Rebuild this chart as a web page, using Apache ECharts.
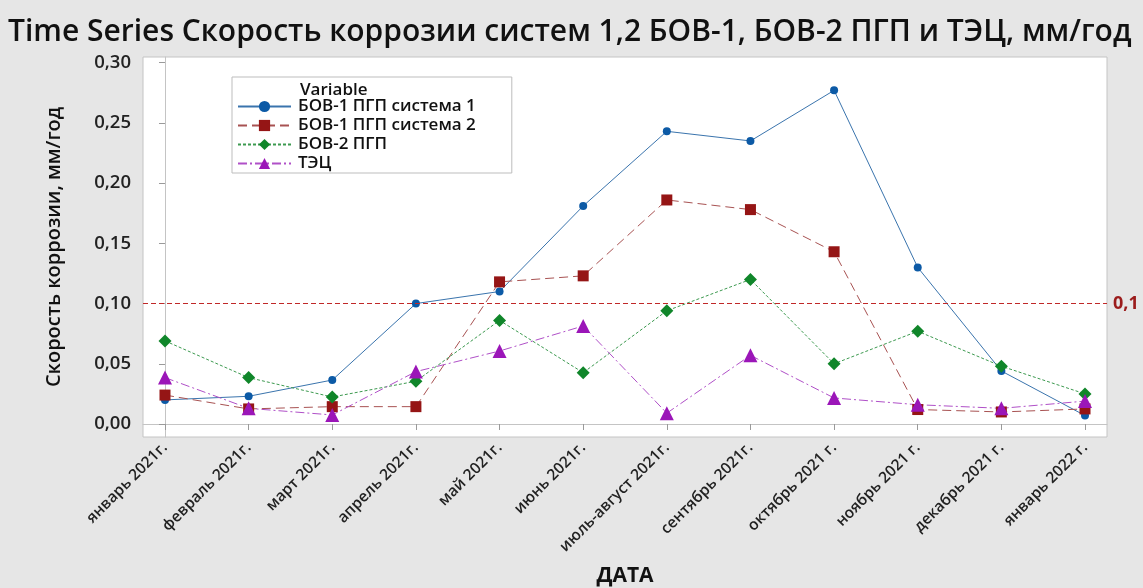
<!DOCTYPE html>
<html><head><meta charset="utf-8">
<script src="https://cdn.jsdelivr.net/npm/echarts@6/dist/echarts.min.js"></script>
<style>html,body{margin:0;padding:0;background:#e6e6e6}#c{width:1143px;height:588px}</style>
</head><body><div id="c"></div>
<script>
var categories = ['январь 2021г.','февраль 2021г.','март 2021г.','апрель 2021г.','май 2021г.','июнь 2021г.','июль-август 2021г.','сентябрь 2021г.','октябрь 2021 г.','ноябрь 2021 г.','декабрь 2021 г.','январь 2022 г.'];
var bov1s1 = [0.020,0.023,0.0365,0.100,0.110,0.181,0.243,0.235,0.277,0.130,0.044,0.007];
var bov1s2 = [0.024,0.0125,0.0144,0.0144,0.118,0.123,0.186,0.178,0.143,0.012,0.010,0.0125];
var bov2 = [0.069,0.0385,0.0224,0.0355,0.086,0.0426,0.094,0.120,0.050,0.077,0.048,0.025];
var tec = [0.0385,0.013,0.0075,0.0435,0.0606,0.0814,0.009,0.057,0.0216,0.016,0.013,0.019];
var yTicks = [0,0.05,0.10,0.15,0.20,0.25,0.30];
var refValue = 0.1;

function pairs(arr){ return arr.map(function(v,i){ return [i,v]; }); }
var idx = categories.map(function(c,i){ return i; });
var font = 'Open Sans';
var chart = echarts.init(document.getElementById('c'));
chart.setOption({
  backgroundColor:'#e6e6e6',
  animation:false,
  title:[{
    text:'Time Series Скорость коррозии систем 1,2 БОВ-1, БОВ-2 ПГП и ТЭЦ, мм/год',
    left:3, top:12,
    textStyle:{fontFamily:font,fontSize:30,fontWeight:600,color:'#111'}
  },{
    text:'Variable', left:295, top:77,
    textStyle:{fontFamily:font,fontSize:17,fontWeight:600,color:'#111'}
  }],
  legend:{
    orient:'vertical', left:232, top:77,
    padding:[21,36,1,5], itemGap:2, itemWidth:53, itemHeight:14,
    backgroundColor:'#fff', borderColor:'#bdbdbd', borderWidth:1,
    textStyle:{fontFamily:font,fontSize:17,fontWeight:600,color:'#111',padding:[0,0,0,2]},
    data:['БОВ-1 ПГП система 1','БОВ-1 ПГП система 2','БОВ-2 ПГП','ТЭЦ']
  },
  grid:{left:143,right:36,top:57,bottom:151,outerBoundsMode:'none',containLabel:false,show:true,backgroundColor:'#fff',borderColor:'#c4c4c4',borderWidth:1},
  xAxis:{
    type:'value', min:-0.263, max:11.263,
    name:'ДАТА', nameLocation:'middle', nameGap:129,
    nameTextStyle:{fontFamily:font,fontSize:21,fontWeight:700,color:'#111'},
    axisLine:{show:true,lineStyle:{color:'#c4c4c4'}},
    splitLine:{show:false},
    axisTick:{show:true,length:6,lineStyle:{color:'#9a9a9a'},customValues:idx},
    axisLabel:{customValues:idx,rotate:45,margin:8,fontFamily:font,fontSize:15.5,fontWeight:600,color:'#222',
      formatter:function(v){ return categories[Math.round(v)]; }}
  },
  yAxis:{
    type:'value', min:-0.0108, max:0.3047,
    name:'Скорость коррозии, мм/год', nameLocation:'middle', nameGap:79,
    nameTextStyle:{fontFamily:font,fontSize:20,fontWeight:600,color:'#111'},
    axisLine:{show:true,lineStyle:{color:'#c4c4c4'}},
    splitLine:{show:false},
    axisTick:{show:true,length:6,lineStyle:{color:'#9a9a9a'},customValues:yTicks},
    axisLabel:{customValues:yTicks,margin:12,fontFamily:font,fontSize:18.5,fontWeight:600,color:'#222',
      formatter:function(v){ return v.toFixed(2).replace('.',','); }}
  },
  series:[{
    name:'БОВ-1 ПГП система 1', type:'line', data:pairs(bov1s1),
    symbol:'circle', symbolSize:8,
    itemStyle:{color:'#0c5aa6'}, lineStyle:{color:'#3a74ad',width:1,type:'solid'},
    markLine:{silent:true,symbol:['none','none'],
      lineStyle:{color:'#c02828',type:[5,3],width:1.2},
      label:{show:true,position:'end',distance:6,formatter:'0,1',fontFamily:font,fontSize:18,fontWeight:700,color:'#9b1c1c'},
      data:[{yAxis:refValue}]}
  },{
    name:'БОВ-1 ПГП система 2', type:'line', data:pairs(bov1s2),
    symbol:'rect', symbolSize:11,
    itemStyle:{color:'#951515'}, lineStyle:{color:'#a85252',width:1,type:[9,5]}
  },{
    name:'БОВ-2 ПГП', type:'line', data:pairs(bov2),
    symbol:'diamond', symbolSize:13,
    itemStyle:{color:'#10862a'}, lineStyle:{color:'#3d9a50',width:1,type:[3,2]}
  },{
    name:'ТЭЦ', type:'line', data:pairs(tec),
    symbol:'triangle', symbolSize:14,
    itemStyle:{color:'#9b16b8'}, lineStyle:{color:'#b050c8',width:1,type:[9,3,2,3]}
  }]
});
</script></body></html>
